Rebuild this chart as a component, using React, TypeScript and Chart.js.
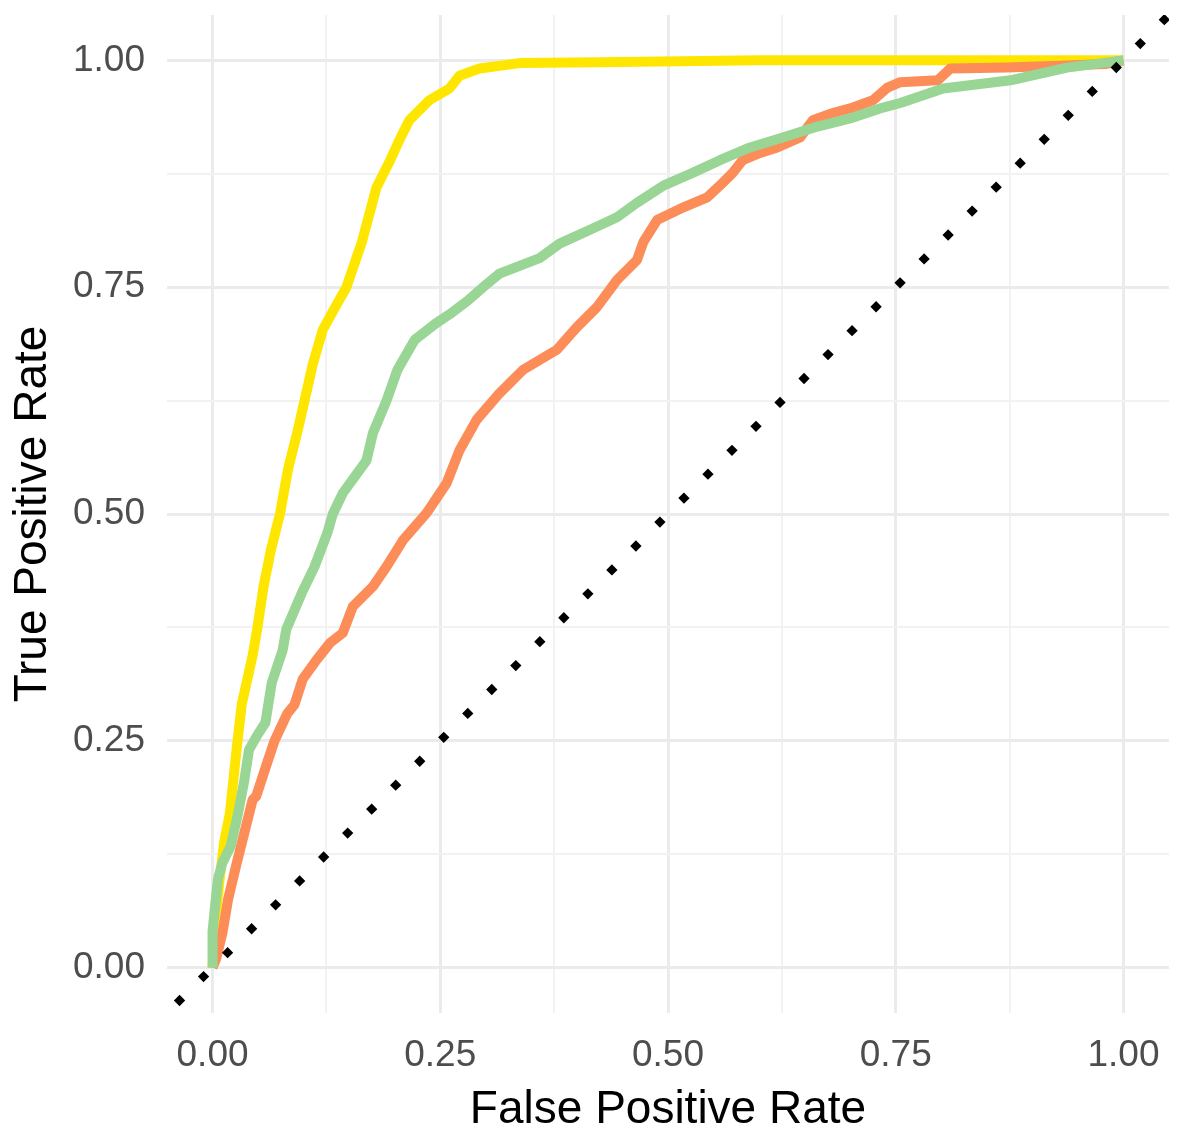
import React, { useEffect, useRef } from 'react';
import { Chart, registerables } from 'chart.js';

Chart.register(...registerables);

// ---- axis setup ----
const AXIS_MIN = -0.05;
const AXIS_MAX = 1.05;
const MAJOR_TICKS = [0, 0.25, 0.5, 0.75, 1];
const MINOR_TICKS = [0.125, 0.375, 0.625, 0.875];
const X_TITLE = 'False Positive Rate';
const Y_TITLE = 'True Positive Rate';

// ---- reference diagonal (y = x) ----
const DIAG_X = [AXIS_MIN, AXIS_MAX];
const DIAG_Y = [AXIS_MIN, AXIS_MAX];

// ---- yellow model ----
const YELLOW_FPR = [0, 0.003, 0.008, 0.013, 0.019, 0.026, 0.032, 0.044, 0.049, 0.056, 0.064, 0.074, 0.083, 0.093, 0.101, 0.11, 0.121, 0.133, 0.147, 0.164, 0.18, 0.195, 0.205, 0.216, 0.238, 0.26, 0.271, 0.293, 0.337, 0.425, 0.6, 1.0];
const YELLOW_TPR = [0, 0.05, 0.10, 0.14, 0.17, 0.237, 0.29, 0.344, 0.373, 0.42, 0.46, 0.50, 0.55, 0.59, 0.625, 0.665, 0.703, 0.725, 0.75, 0.80, 0.86, 0.89, 0.912, 0.934, 0.956, 0.969, 0.983, 0.991, 0.997, 0.998, 1.0, 1.0];

// ---- green model ----
const GREEN_FPR = [0, 0, 0.003, 0.006, 0.011, 0.02, 0.028, 0.035, 0.04, 0.049, 0.058, 0.065, 0.077, 0.081, 0.098, 0.112, 0.126, 0.132, 0.143, 0.169, 0.176, 0.191, 0.203, 0.222, 0.245, 0.26, 0.28, 0.297, 0.315, 0.359, 0.381, 0.418, 0.444, 0.466, 0.495, 0.527, 0.557, 0.59, 0.626, 0.664, 0.70, 0.736, 0.755, 0.802, 0.876, 0.938, 1.0];
const GREEN_TPR = [0, 0.04, 0.07, 0.098, 0.116, 0.134, 0.17, 0.207, 0.24, 0.256, 0.27, 0.314, 0.35, 0.373, 0.413, 0.442, 0.479, 0.5, 0.523, 0.559, 0.589, 0.625, 0.659, 0.692, 0.71, 0.72, 0.735, 0.75, 0.765, 0.782, 0.798, 0.815, 0.827, 0.843, 0.862, 0.876, 0.89, 0.904, 0.915, 0.927, 0.936, 0.948, 0.953, 0.969, 0.978, 0.992, 1.0];

// ---- orange model ----
const ORANGE_FPR = [0, 0.004, 0.011, 0.017, 0.026, 0.035, 0.044, 0.048, 0.06, 0.068, 0.082, 0.09, 0.099, 0.114, 0.129, 0.143, 0.154, 0.176, 0.191, 0.209, 0.235, 0.257, 0.271, 0.29, 0.315, 0.341, 0.378, 0.40, 0.422, 0.444, 0.466, 0.473, 0.488, 0.517, 0.543, 0.56, 0.571, 0.582, 0.601, 0.62, 0.645, 0.659, 0.681, 0.703, 0.725, 0.741, 0.755, 0.796, 0.81, 0.872, 0.93, 0.98, 1.0];
const ORANGE_TPR = [0, 0.01, 0.039, 0.075, 0.113, 0.149, 0.185, 0.189, 0.226, 0.25, 0.28, 0.29, 0.318, 0.339, 0.358, 0.369, 0.398, 0.42, 0.442, 0.471, 0.501, 0.534, 0.57, 0.604, 0.633, 0.659, 0.681, 0.706, 0.728, 0.758, 0.78, 0.80, 0.824, 0.838, 0.849, 0.865, 0.876, 0.89, 0.898, 0.904, 0.915, 0.934, 0.942, 0.948, 0.956, 0.97, 0.976, 0.978, 0.991, 0.992, 0.994, 0.996, 1.0];

const YELLOW = '#FFE600';
const GREEN = '#99D594';
const ORANGE = '#FC8D59';

const FONT = '"Liberation Sans", Arial, Helvetica, sans-serif';

const toPoints = (xs: number[], ys: number[]) => xs.map((x, i) => ({ x, y: ys[i] }));
const ALL_TICKS = [...MAJOR_TICKS, ...MINOR_TICKS].sort((a, b) => a - b);
const isMajor = (v: number) => MAJOR_TICKS.includes(v);

export default function App() {
  const ref = useRef<HTMLCanvasElement | null>(null);

  useEffect(() => {
    if (!ref.current) return;
    const curve = (data: any, color: string, order: number) => ({
      data,
      showLine: true,
      borderColor: color,
      backgroundColor: color,
      borderWidth: 10,
      pointRadius: 0,
      borderJoinStyle: 'round' as const,
      borderCapStyle: 'butt' as const,
      tension: 0,
      order,
    });
    const gridOpts = {
      drawTicks: false,
      color: (ctx: any) => (ctx.tick && isMajor(ctx.tick.value) ? '#EBEBEB' : '#F2F2F2'),
      lineWidth: (ctx: any) => (ctx.tick && isMajor(ctx.tick.value) ? 3 : 2),
    };
    const tickOpts = (padding: number) => ({
      autoSkip: false,
      maxRotation: 0,
      minRotation: 0,
      padding,
      color: '#4D4D4D',
      font: { family: FONT, size: 37 },
      callback: (v: any) => (isMajor(Number(v)) ? Number(v).toFixed(2) : ''),
    });
    const chart = new Chart(ref.current, {
      type: 'scatter',
      data: {
        datasets: [
          {
            data: toPoints(DIAG_X, DIAG_Y),
            showLine: true,
            borderColor: '#000000',
            borderWidth: 8,
            borderDash: [8, 25.9],
            borderDashOffset: 20.2,
            borderCapStyle: 'butt',
            pointRadius: 0,
            order: 0,
          } as any,
          curve(toPoints(GREEN_FPR, GREEN_TPR), GREEN, 1),
          curve(toPoints(ORANGE_FPR, ORANGE_TPR), ORANGE, 2),
          curve(toPoints(YELLOW_FPR, YELLOW_TPR), YELLOW, 3),
        ],
      },
      options: {
        responsive: false,
        animation: false,
        devicePixelRatio: 1,
        layout: { padding: { top: 15, right: 9, left: 0, bottom: 0 } },
        plugins: { legend: { display: false }, tooltip: { enabled: false } },
        scales: {
          x: {
            type: 'linear',
            min: AXIS_MIN,
            max: AXIS_MAX,
            border: { display: false },
            grid: gridOpts as any,
            ticks: tickOpts(21) as any,
            afterBuildTicks: (scale: any) => {
              scale.ticks = ALL_TICKS.map((v) => ({ value: v }));
            },
            afterFit: (scale: any) => {
              scale.height = 126;
              scale.paddingLeft = 0;
              scale.paddingRight = 0;
            },
            title: {
              display: true,
              text: X_TITLE,
              color: '#000000',
              font: { family: FONT, size: 46, lineHeight: 1.2 },
              padding: { top: 0, bottom: 1 },
            },
          },
          y: {
            type: 'linear',
            min: AXIS_MIN,
            max: AXIS_MAX,
            border: { display: false },
            grid: gridOpts as any,
            ticks: tickOpts(22) as any,
            afterBuildTicks: (scale: any) => {
              scale.ticks = ALL_TICKS.map((v) => ({ value: v }));
            },
            afterFit: (scale: any) => {
              scale.width = 167;
              scale.paddingTop = 0;
              scale.paddingBottom = 0;
            },
            title: {
              display: true,
              text: Y_TITLE,
              color: '#000000',
              font: { family: FONT, size: 46, lineHeight: 1.2 },
              padding: { top: 6, bottom: 0 },
            },
          },
        },
      } as any,
    });
    return () => chart.destroy();
  }, []);

  return (
    <div style={{ position: 'absolute', left: 0, top: 0, width: 1178, height: 1139, background: '#ffffff' }}>
      <canvas ref={ref} width={1178} height={1139} style={{ display: 'block', width: 1178, height: 1139 }} />
    </div>
  );
}
